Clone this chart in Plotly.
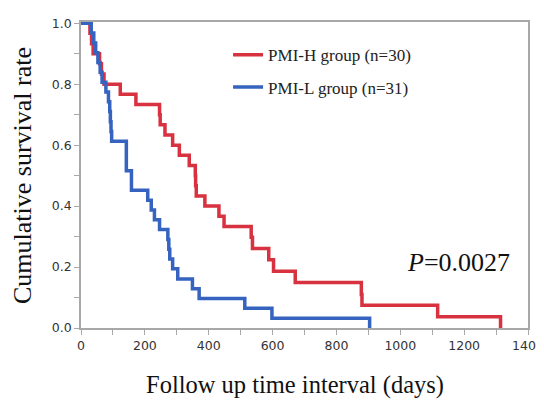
import plotly.graph_objects as go

# Kaplan-Meier step data
red_days = [0, 28, 33, 38, 58, 64, 72, 123, 172, 246, 248, 263, 287, 308, 339, 358, 359, 361,
            388, 432, 448, 533, 537, 588, 603, 671, 878, 880, 1117, 1314]
red_surv = [1.0, 0.967, 0.933, 0.9, 0.867, 0.833, 0.8, 0.767, 0.733, 0.7, 0.667, 0.633, 0.6, 0.567,
            0.533, 0.5, 0.467, 0.433, 0.4, 0.367, 0.333, 0.298, 0.261, 0.224, 0.186, 0.149, 0.11,
            0.075, 0.037, 0.0]

blue_days = [0, 32, 40, 46, 53, 60, 66, 78, 86, 90, 92, 94, 96, 142, 142, 142, 158, 158, 209, 220,
             230, 246, 272, 275, 278, 287, 303, 349, 370, 513, 598, 904]
blue_surv = [1.0, 0.968, 0.935, 0.903, 0.871, 0.839, 0.806, 0.774, 0.742, 0.71, 0.677, 0.645, 0.613,
             0.581, 0.548, 0.516, 0.484, 0.452, 0.419, 0.387, 0.355, 0.323, 0.29, 0.258, 0.226, 0.194,
             0.161, 0.129, 0.097, 0.065, 0.032, 0.0]

series_names = ["PMI-H group (n=30)", "PMI-L group (n=31)"]
x_ticks = [0, 200, 400, 600, 800, 1000, 1200, 1400]
y_ticks = [0.0, 0.2, 0.4, 0.6, 0.8, 1.0]
p_text = "<i>P</i>=0.0027"
x_title = "Follow up time interval (days)"
y_title = "Cumulative survival rate"

RED = "#d8313f"
BLUE = "#3563bf"
AX = "#a8a8a8"
SERIF = "Liberation Serif"

fig = go.Figure()
fig.add_trace(go.Scatter(x=red_days, y=red_surv, mode="lines", line=dict(shape="hv", color=RED, width=3.5),
                         name=series_names[0], legendgroup="a"))
fig.add_trace(go.Scatter(x=blue_days, y=blue_surv, mode="lines", line=dict(shape="hv", color=BLUE, width=3.5),
                         name=series_names[1], legendgroup="b"))

axis_common = dict(showgrid=False, zeroline=False, showline=True, linecolor=AX, linewidth=1.5,
                   mirror=True, ticks="outside", ticklen=5, tickwidth=1.2, tickcolor=AX,
                   automargin=False, ticklabeloverflow="allow",
                   tickfont=dict(family="DejaVu Sans", size=12.5, color="#333333"))

fig.update_xaxes(range=[0, 1400], tickvals=x_ticks, ticktext=[str(v) for v in x_ticks],
                 minor=dict(dtick=100, ticks="outside", ticklen=5, tickcolor=AX, tickwidth=1.2),
                 **axis_common)
fig.update_yaxes(range=[0, 1.004], tickvals=y_ticks, ticktext=[f"{v:.1f}" for v in y_ticks],
                 minor=dict(dtick=0.1, ticks="outside", ticklen=5, tickcolor=AX, tickwidth=1.2),
                 **axis_common)

fig.add_annotation(text=p_text, xref="paper", yref="paper", x=0.845, y=0.213, showarrow=False,
                   font=dict(family=SERIF, size=26, color="#111"), xanchor="center", yanchor="middle")
fig.add_annotation(text=x_title, xref="paper", yref="paper", x=0.478, y=-0.185, showarrow=False,
                   font=dict(family=SERIF, size=24.5, color="#111"), xanchor="center", yanchor="middle")
fig.add_annotation(text=y_title, xref="paper", yref="paper", x=-0.132, y=0.5, showarrow=False,
                   textangle=-90, font=dict(family=SERIF, size=26, color="#111"),
                   xanchor="center", yanchor="middle")

# page body adds an 8px offset, so the figure is 536x392
fig.update_layout(
    width=536, height=392,
    margin=dict(l=73, r=16, t=14, b=72),
    plot_bgcolor="white", paper_bgcolor="white",
    legend=dict(x=0.329, y=0.95, xanchor="left", yanchor="top", bgcolor="rgba(0,0,0,0)",
                font=dict(family=SERIF, size=17, color="#222"),
                traceorder="grouped", tracegroupgap=7),
    showlegend=True,
)

fig.write_html("out.html")
